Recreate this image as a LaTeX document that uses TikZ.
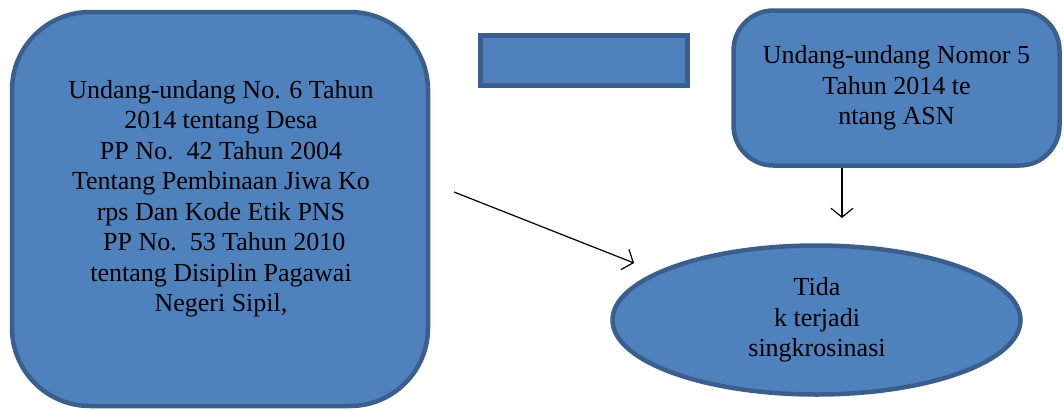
\documentclass[tikz,border=0pt]{standalone}
\usepackage{fontspec}
\setmainfont{Liberation Serif}
\usetikzlibrary{shapes.geometric,arrows.meta}
\definecolor{boxfill}{HTML}{4F81BD}
\definecolor{boxline}{HTML}{3A5F8C}
\begin{document}
\begin{tikzpicture}[x=1pt,y=-1pt]
\tikzstyle{every node}+=[font=\fontsize{26}{30.5}\selectfont, align=center]
\tikzstyle{blok}=[draw=boxline, fill=boxfill, line width=4.5pt, inner sep=0pt]
\tikzstyle{panah}=[line width=1.2pt, -{Straight Barb[length=9pt,width=22pt,line width=1.2pt]}]
\useasboundingbox (0,0) rectangle (1064,410);

\node [blok, rounded corners=78pt, minimum width=416pt, minimum height=394pt] (uudesa) at (220,209) {};
\node (uudesatext) at (221,199) {Undang-undang No. 6 Tahun\\2014 tentang Desa\\PP No.\ \ 42 Tahun 2004\\Tentang Pembinaan Jiwa Ko\\rps Dan Kode Etik PNS\\\ PP No.\ \ 53 Tahun 2010\\tentang Disiplin Pagawai\\Negeri Sipil,};

\node [blok, minimum width=207pt, minimum height=50pt] (kosong) at (584,60.5) {};

\node [blok, rounded corners=40pt, minimum width=326pt, minimum height=155pt] (asn) at (896.5,88) {Undang-undang Nomor 5\\Tahun 2014 te\\ntang ASN};

\node [blok, ellipse, minimum width=408pt, minimum height=149pt] (hasil) at (816.5,320) {};
\node (hasiltext) at (817,320) {Tida\\k terjadi\\singkrosinasi};

\coordinate (awal) at (454,192);
\coordinate (ujung) at (634,263);
\draw [panah] (awal) -- (ujung);

\coordinate (bawah) at (842,218);
\draw [panah] (asn.south -| bawah) -- (bawah);
\end{tikzpicture}
\end{document}
